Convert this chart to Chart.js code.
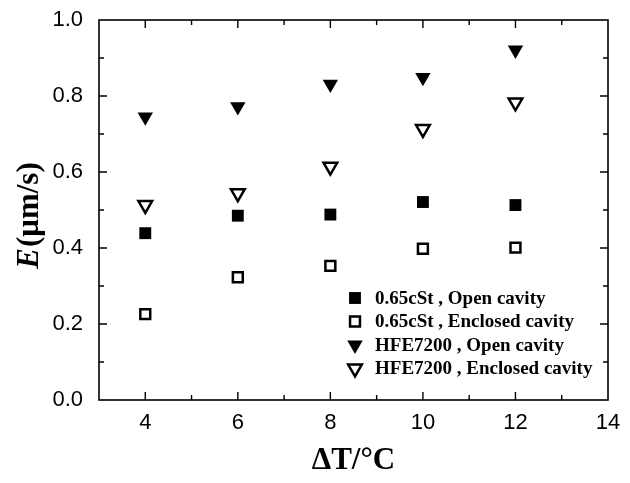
<!DOCTYPE html>
<html>
<head>
<meta charset="utf-8">
<script src="https://cdn.jsdelivr.net/npm/chart.js@4"></script>
<style>
  html, body { margin: 0; padding: 0; background: #fff; }
  #wrap { width: 630px; height: 483px; }
</style>
</head>
<body>
<div id="wrap"><canvas id="chart" width="630" height="483"></canvas></div>
<script>
const deltaT = [4, 6, 8, 10, 12];
const cstOpen = [0.439, 0.485, 0.488, 0.521, 0.513];
const cstEnclosed = [0.226, 0.323, 0.353, 0.398, 0.401];
const hfeOpen = [0.745, 0.772, 0.831, 0.849, 0.921];
const hfeEnclosed = [0.513, 0.544, 0.614, 0.713, 0.783];
const xTicks = [4, 6, 8, 10, 12, 14];
const yTicks = [0.0, 0.2, 0.4, 0.6, 0.8, 1.0];
const seriesLabels = ['0.65cSt , Open cavity', '0.65cSt , Enclosed cavity', 'HFE7200 , Open cavity', 'HFE7200 , Enclosed cavity'];

const toPoints = (vals) => deltaT.map((t, i) => ({ x: t, y: vals[i] }));

function marker(style, filled) {
  const tri = style === 'triangle';
  return {
    pointStyle: style,
    rotation: tri ? 180 : 0,
    pointRadius: tri ? (filled ? 8.9 : 7.9) : (filled ? 8.4 : 7),
    pointBorderWidth: filled ? 0 : 2.5,
    pointBackgroundColor: filled ? '#000' : '#fff',
    pointBorderColor: '#000',
    pointHoverRadius: tri ? 8.9 : 8.4
  };
}

const datasets = [
  { label: seriesLabels[0], data: toPoints(cstOpen), ...marker('rect', true) },
  { label: seriesLabels[1], data: toPoints(cstEnclosed), ...marker('rect', false) },
  { label: seriesLabels[2], data: toPoints(hfeOpen), ...marker('triangle', true) },
  { label: seriesLabels[3], data: toPoints(hfeEnclosed), ...marker('triangle', false) }
];

// frame with inward ticks on all sides, titles and inset legend
const decorations = {
  id: 'decorations',
  afterDraw(chart) {
    const { ctx, chartArea: a, scales: { x, y } } = chart;
    ctx.save();
    ctx.strokeStyle = '#000';
    ctx.lineWidth = 1.6;
    ctx.strokeRect(a.left, a.top, a.right - a.left, a.bottom - a.top);

    ctx.lineWidth = 1.4;
    ctx.beginPath();
    for (let v = 4; v < 14; v++) {
      const len = v % 2 === 0 ? 8 : 5;
      const px = x.getPixelForValue(v);
      ctx.moveTo(px, a.bottom); ctx.lineTo(px, a.bottom - len);
      ctx.moveTo(px, a.top); ctx.lineTo(px, a.top + len);
    }
    for (let k = 1; k < 10; k++) {
      const len = k % 2 === 0 ? 8 : 5;
      const py = y.getPixelForValue(k / 10);
      ctx.moveTo(a.left, py); ctx.lineTo(a.left + len, py);
      ctx.moveTo(a.right, py); ctx.lineTo(a.right - len, py);
    }
    ctx.stroke();

    // x title
    ctx.fillStyle = '#000';
    ctx.font = 'bold 31px "Liberation Serif", "Times New Roman", serif';
    ctx.textAlign = 'center';
    ctx.textBaseline = 'middle';
    ctx.fillText('\u0394T/\u00B0C', (a.left + a.right) / 2, 461);

    // y title, italic E
    ctx.save();
    ctx.translate(30, (a.top + a.bottom) / 2 + 6);
    ctx.rotate(-Math.PI / 2);
    const fE = 'italic bold 31px "Liberation Serif", "Times New Roman", serif';
    const fR = 'bold 31px "Liberation Serif", "Times New Roman", serif';
    ctx.font = fE; const wE = ctx.measureText('E').width;
    ctx.font = fR; const wR = ctx.measureText('(\u03BCm/s)').width;
    let sx = -(wE + wR) / 2;
    ctx.textAlign = 'left';
    ctx.font = fE; ctx.fillText('E', sx, 0);
    ctx.font = fR; ctx.fillText('(\u03BCm/s)', sx + wE + 1, 0);
    ctx.restore();

    // legend
    const lx = a.left + 256, ly = a.top + 278, step = 23.5;
    ctx.font = 'bold 19px "Liberation Serif", "Times New Roman", serif';
    ctx.textAlign = 'left';
    datasets.forEach((ds, i) => {
      const cy = ly + i * step;
      ctx.fillStyle = ds.pointBackgroundColor;
      ctx.strokeStyle = ds.pointBorderColor;
      ctx.lineWidth = ds.pointBorderWidth;
      Chart.helpers.drawPoint(ctx, {
        pointStyle: ds.pointStyle,
        rotation: ds.rotation,
        radius: ds.pointRadius,
        borderWidth: ds.pointBorderWidth
      }, lx, cy);
      ctx.fillStyle = '#000';
      ctx.fillText(ds.label, lx + 20, cy + 1);
    });
    ctx.restore();
  }
};

new Chart(document.getElementById('chart'), {
  type: 'scatter',
  data: { datasets },
  options: {
    responsive: false,
    animation: false,
    layout: { padding: { top: 20, right: 22, left: 0, bottom: 0 } },
    plugins: { legend: { display: false }, tooltip: { enabled: false } },
    scales: {
      x: {
        type: 'linear',
        min: 3,
        max: 14,
        afterBuildTicks: (s) => { s.ticks = xTicks.map(v => ({ value: v })); },
        afterFit: (s) => { s.height = 83; s.paddingLeft = 0; s.paddingRight = 0; },
        grid: { display: false, drawTicks: false },
        border: { display: false },
        ticks: {
          padding: 10,
          color: '#000',
          font: { family: '"Liberation Sans", Arial, sans-serif', size: 22 }
        }
      },
      y: {
        type: 'linear',
        min: 0,
        max: 1,
        afterBuildTicks: (s) => { s.ticks = yTicks.map(v => ({ value: v })); },
        afterFit: (s) => { s.width = 99; s.paddingTop = 0; s.paddingBottom = 0; },
        grid: { display: false, drawTicks: false },
        border: { display: false },
        ticks: {
          padding: 16,
          color: '#000',
          callback: (v) => Number(v).toFixed(1),
          font: { family: '"Liberation Sans", Arial, sans-serif', size: 22 }
        }
      }
    }
  },
  plugins: [decorations]
});
</script>
</body>
</html>
